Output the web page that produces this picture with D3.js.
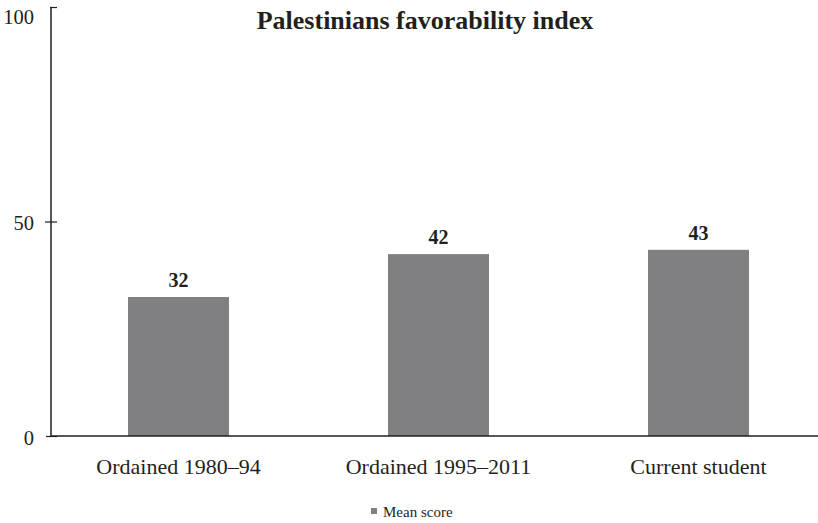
<!DOCTYPE html>
<html><head><meta charset="utf-8">
<script src="https://cdn.jsdelivr.net/npm/d3@7"></script>
<style>body{margin:0;background:#fff}svg{display:block}text{font-family:"Liberation Serif","DejaVu Serif",serif;fill:#231f20}</style>
</head><body><svg id="c" width="818" height="523"></svg>
<script>
const categories = ["Ordained 1980–94", "Ordained 1995–2011", "Current student"];
const values = [32.4, 42.4, 43.4];
const yTicks = [0, 50, 100];
const title = "Palestinians favorability index";
const seriesName = "Mean score";

const svg = d3.select("#c");
const W = 818, H = 523;
const axisX = 51, y0 = 436, y1 = 7;
const x = d3.scaleBand().domain(categories).range([48.5, 828.5]).paddingInner(0.6115).paddingOuter(0.30575);
const y = d3.scaleLinear().domain([0, 100]).range([y0, y1]);
const barColor = "#808083", ink = "#231f20";

svg.selectAll("rect.bar").data(values).join("rect").attr("class","bar")
  .attr("x",(d,i)=>x(categories[i])).attr("width",x.bandwidth())
  .attr("y",d=>y(d)).attr("height",d=>y0-y(d)).attr("fill",barColor);

// baseline
svg.append("line").attr("x1",axisX).attr("x2",W).attr("y1",y0).attr("y2",y0).attr("stroke",ink).attr("stroke-width",1.5);
// y axis
const yAxis = svg.append("g").attr("transform",`translate(${axisX},0)`)
  .call(d3.axisLeft(y).tickValues(yTicks).tickSize(6).tickPadding(11).tickFormat(d3.format("d")));
yAxis.select(".domain").remove();
yAxis.append("line").attr("x1",0).attr("x2",0).attr("y1",y1).attr("y2",y0).attr("stroke",ink).attr("stroke-width",1.5);
yAxis.selectAll(".tick line").attr("x1",d=>d===100?-1:(d===0?-5:-6)).attr("x2",6).attr("stroke",ink).attr("stroke-width",1.2);
yAxis.selectAll(".tick text").attr("font-size",20.5).attr("fill",ink).attr("font-family","Liberation Serif")
  .attr("dy",d=>d===100?"0.78em":"0.39em");

// bar labels
svg.selectAll("text.val").data(values).join("text").attr("class","val")
  .attr("x",(d,i)=>x(categories[i])+x.bandwidth()/2).attr("y",d=>y(d)-10)
  .attr("text-anchor","middle").attr("font-size",20).attr("font-weight","bold").text(d=>Math.round(d));

// category labels
svg.selectAll("text.cat").data(categories).join("text").attr("class","cat")
  .attr("x",d=>x(d)+x.bandwidth()/2).attr("y",474)
  .attr("text-anchor","middle").attr("font-size",22).text(d=>d);

// title
svg.append("text").attr("x",425).attr("y",29).attr("text-anchor","middle")
  .attr("font-size",26).attr("font-weight","bold").text(title);

// legend
const lg = svg.append("g");
lg.append("rect").attr("x",371).attr("y",508).attr("width",6).attr("height",6).attr("fill",barColor);
lg.append("text").attr("x",383).attr("y",517).attr("font-size",15).text(seriesName);
</script></body></html>
